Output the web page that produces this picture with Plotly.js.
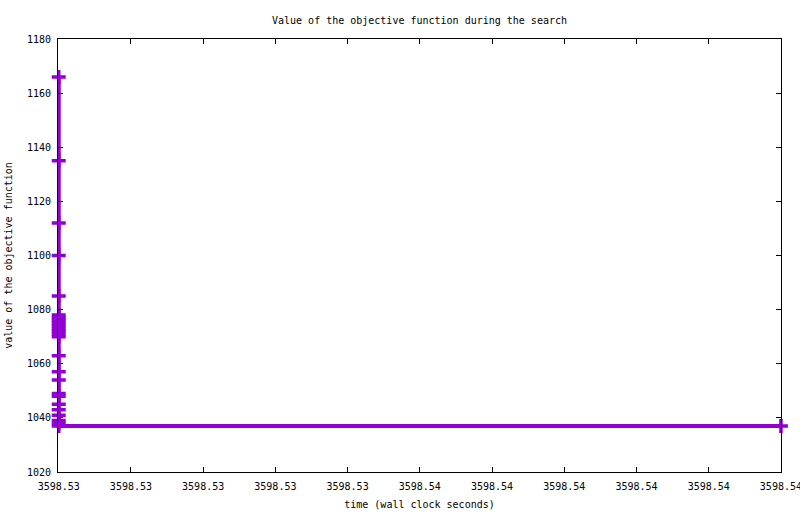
<!DOCTYPE html>
<html>
<head>
<meta charset="utf-8">
<script src="https://cdn.plot.ly/plotly-3.0.1.min.js"></script>
<style>
html,body{margin:0;padding:0;background:#fff;}
#chart{width:800px;height:514px;}
</style>
</head>
<body>
<div id="chart"></div>
<script>
// time (wall clock seconds)
const times = [
  3598.53000, 3598.53000, 3598.53000, 3598.53000, 3598.53000,
  3598.53000, 3598.53000, 3598.53000, 3598.53000, 3598.53000,
  3598.53000, 3598.53000, 3598.53000, 3598.53000, 3598.53000,
  3598.53000, 3598.53000, 3598.53000, 3598.53000, 3598.53000,
  3598.53000, 3598.53000, 3598.53000, 3598.53000, 3598.53000,
  3598.54000
];
// value of the objective function
const objective = [
  1166, 1135, 1112, 1100, 1085,
  1078, 1077, 1076, 1075, 1074,
  1073, 1072, 1071, 1070, 1063,
  1057, 1054, 1049, 1048, 1045,
  1043, 1041, 1039, 1038, 1037,
  1037
];
const xTickVals = [3598.530, 3598.531, 3598.532, 3598.533, 3598.534, 3598.535,
                   3598.536, 3598.537, 3598.538, 3598.539, 3598.540];
const xTickText = ["3598.53", "3598.53", "3598.53", "3598.53", "3598.53", "3598.54",
                   "3598.54", "3598.54", "3598.54", "3598.54", "3598.54"];
const yTickVals = [1020, 1040, 1060, 1080, 1100, 1120, 1140, 1160, 1180];

const FONT = {family: '"DejaVu Sans Mono", "Liberation Mono", monospace', size: 10, color: '#000'};
const PURPLE = '#9400D3';

const trace = {
  x: times,
  y: objective,
  type: 'scatter',
  mode: 'lines+markers',
  line: {color: PURPLE, width: 4},
  marker: {symbol: 'cross-thin-open', size: 10, color: PURPLE, line: {color: PURPLE, width: 3.5}},
  cliponaxis: false,
  showlegend: false,
  hoverinfo: 'skip'
};

const axisCommon = {
  showline: true, linecolor: '#000', linewidth: 1,
  ticks: 'inside', ticklen: 5, tickwidth: 1, tickcolor: '#000',
  mirror: 'ticks', showgrid: false, zeroline: false,
  tickfont: FONT, ticklabeloverflow: 'allow'
};

const layout = {
  width: 800, height: 514,
  margin: {l: 58, r: 19, t: 39, b: 42, pad: 0},
  paper_bgcolor: '#fff', plot_bgcolor: '#fff',
  font: FONT,
  title: {text: 'Value of the objective function during the search', font: FONT,
          x: 0.5, xref: 'paper', xanchor: 'center', y: 1 - 20/514, yref: 'container', yanchor: 'middle'},
  xaxis: Object.assign({}, axisCommon, {
    range: [3598.52999, 3598.540001],
    tickmode: 'array', tickvals: xTickVals, ticktext: xTickText,
    ticklabelstandoff: 5,
    title: {text: 'time (wall clock seconds)', font: FONT, standoff: 9},
    automargin: false
  }),
  yaxis: Object.assign({}, axisCommon, {
    range: [1020, 1180],
    tickmode: 'array', tickvals: yTickVals,
    ticklabelstandoff: 4,
    title: {text: 'value of the objective function', font: FONT, standoff: 12},
    automargin: false
  })
};

Plotly.newPlot('chart', [trace], layout, {staticPlot: true, displayModeBar: false});
</script>
</body>
</html>
